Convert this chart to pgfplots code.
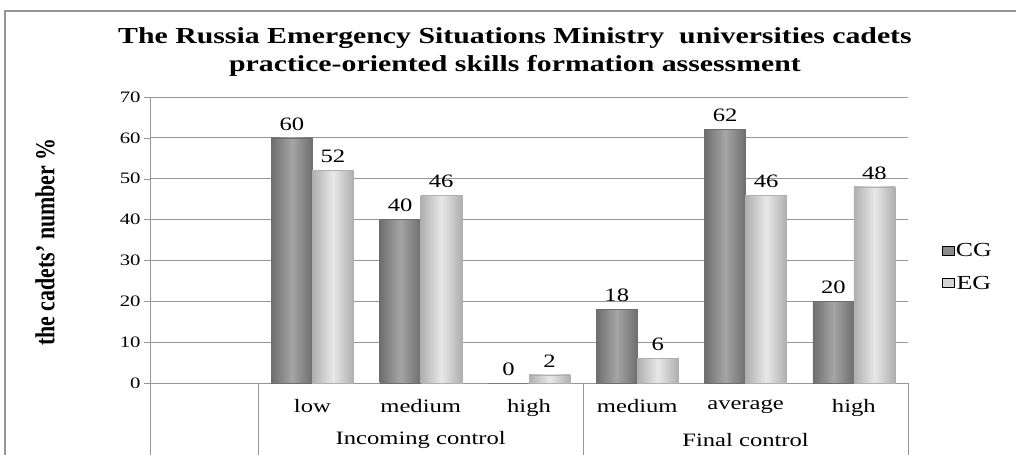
\documentclass[border=0pt]{standalone}
\usepackage{fontspec}
\setmainfont{Liberation Serif}
\newfontfamily\wfont[FakeStretch=1.3]{Liberation Serif}
\usepackage{pgfplots}
\pgfplotsset{compat=1.18}
\definecolor{cgmid}{RGB}{140,140,140}
\definecolor{cgdark}{RGB}{110,110,110}
\definecolor{cglight}{RGB}{165,165,165}
\definecolor{egmid}{RGB}{212,212,212}
\definecolor{egdark}{RGB}{175,175,175}
\definecolor{eglight}{RGB}{232,232,232}
\definecolor{gridc}{RGB}{150,150,150}
\pgfplotsset{
  cg/.style={draw=cgdark, left color=cgdark, right color=cgdark, middle color=cglight, bar shift=-20.5bp},
  eg/.style={draw=egdark, left color=egdark, right color=egdark, middle color=eglight, bar shift=20.5bp},
}
\begin{document}
\begin{tikzpicture}[x=1bp,y=1bp]
\useasboundingbox (0,0) rectangle (1016,455);
\draw[gridc, line width=1.2bp] (5,0) -- (5,444) -- (1016,444);
\node[font=\wfont\fontsize{23}{29}\selectfont\bfseries, align=center] at (515,403)
  {The Russia Emergency Situations Ministry\ \ universities cadets\\practice-oriented skills formation assessment};
\node[rotate=90] at (45,213) {\scalebox{1}[1.25]{\fontsize{22}{24}\selectfont\bfseries the cadets' number \%}};
\begin{axis}[
  at={(150bp,72bp)}, anchor=south west,
  scale only axis, width=758bp, height=286bp,
  xmin=-0.5, xmax=6.5, ymin=0, ymax=70,
  axis lines*=left,
  axis line style={gridc},
  ytick={0,10,...,70},
  ymajorgrids, grid style={gridc, line width=0.8bp},
  ytick style={gridc}, tick align=outside, major tick length=6bp,
  xtick={1,...,6},
  xticklabels={low,medium,high,medium,average,high},
  xtick style={draw=none},
  xticklabel style={font=\wfont\fontsize{19}{20}\selectfont, yshift=-7bp},
  yticklabel style={font=\wfont\fontsize{16}{17}\selectfont},
  /pgf/number format/assume math mode=true,
  ybar=0pt, bar width=41bp,
  nodes near coords,
  every node near coord/.append style={font=\wfont\fontsize{19}{20}\selectfont, yshift=4bp, text=black},
  clip=false,
  legend style={at={(rel axis cs:1.04,0.405)}, anchor=west, draw=none, fill=none,
     font=\wfont\fontsize{20}{24}\selectfont, row sep=14bp},
  legend image code/.code={\fill[#1] (0bp,-4bp) rectangle (12bp,5bp);},
]
\addlegendimage{fill=cgmid}
\addlegendentry{CG}
\addlegendimage{fill=egmid}
\addlegendentry{EG}
\addplot[cg, forget plot] coordinates {(1,60)};
\addplot[cg, forget plot] coordinates {(2,40)};
\addplot[cg, forget plot] coordinates {(3,0)};
\addplot[cg, forget plot] coordinates {(4,18)};
\addplot[cg, forget plot] coordinates {(5,62)};
\addplot[cg, forget plot] coordinates {(6,20)};
\addplot[eg, forget plot] coordinates {(1,52)};
\addplot[eg, forget plot] coordinates {(2,46)};
\addplot[eg, forget plot] coordinates {(3,2)};
\addplot[eg, forget plot] coordinates {(4,6)};
\addplot[eg, forget plot] coordinates {(5,46)};
\addplot[eg, forget plot] coordinates {(6,48)};
\draw[gridc, line width=0.8bp] ([yshift=-72bp]axis cs:-0.5,0) -- (axis cs:-0.5,0);
\draw[gridc, line width=0.8bp] ([yshift=-72bp]axis cs:0.5,0) -- (axis cs:0.5,0);
\draw[gridc, line width=0.8bp] ([yshift=-72bp]axis cs:3.5,0) -- (axis cs:3.5,0);
\draw[gridc, line width=0.8bp] ([yshift=-72bp]axis cs:6.5,0) -- (axis cs:6.5,0);
\node[font=\wfont\fontsize{19}{20}\selectfont] at ([yshift=-57bp]axis cs:2,0) {Incoming control};
\node[font=\wfont\fontsize{19}{20}\selectfont] at ([yshift=-57bp]axis cs:5,0) {Final control};
\end{axis}
\end{tikzpicture}
\end{document}
